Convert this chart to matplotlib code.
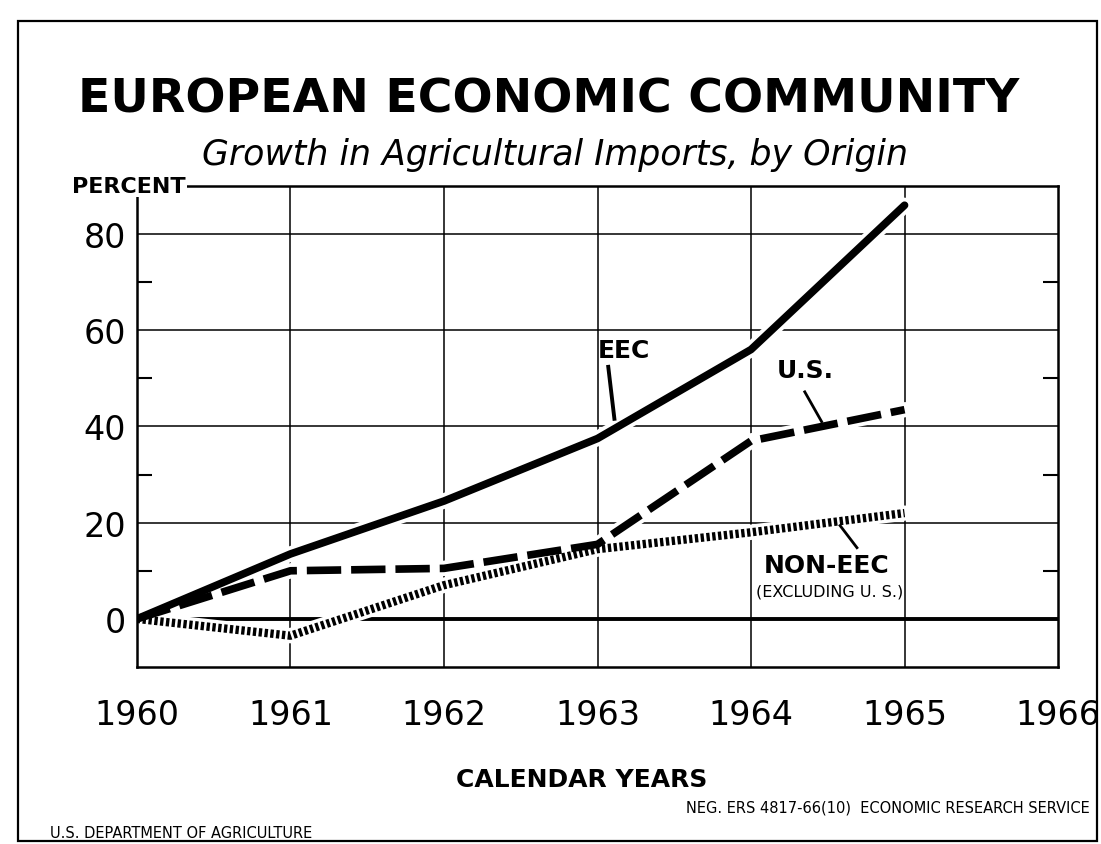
import matplotlib
matplotlib.use('Agg')
import matplotlib.pyplot as plt
from matplotlib.patches import Rectangle

# ── Data (percent growth over 1960) ───────────────────────────────────────────
years   = [1960, 1961, 1962, 1963, 1964, 1965]
eec     = [0, 13.5, 24.5, 37.5, 56, 86]
us      = [0, 10, 10.5, 15.5, 37, 43.5]
non_eec = [0, -3.5, 7, 14.5, 18, 22]

x_ticks = [1960, 1961, 1962, 1963, 1964, 1965, 1966]
y_ticks = [0, 20, 40, 60, 80]
y_minor = [10, 30, 50, 70]

plt.rcParams['font.family'] = ['DejaVu Sans']
INK = 'black'

fig = plt.figure(figsize=(11.01, 8.45), dpi=100)
fig.patch.set_facecolor('white')

# card border of the old print
fig.add_artist(Rectangle((0.016, 0.003), 0.98, 0.971, transform=fig.transFigure,
                         fill=False, edgecolor=INK, linewidth=1.6))

ax = fig.add_axes([0.1244, 0.2095, 0.8366, 0.5692])
ax.set_xlim(1960, 1966)
ax.set_ylim(-10, 90)

# ── grid ──────────────────────────────────────────────────────────────────────
for y in y_ticks[1:]:
    ax.axhline(y, color=INK, linewidth=1.1, zorder=1)
for x in x_ticks[1:-1]:
    ax.axvline(x, color=INK, linewidth=1.1, zorder=1)
ax.axhline(0, color=INK, linewidth=2.8, zorder=1.5)

# ── series (white halo first so grid gets broken around curves) ──────────────
for vals in (non_eec, us, eec):
    ax.plot(years, vals, color='white', linewidth=11, solid_capstyle='round',
            zorder=2.5)

ax.plot(years, non_eec, color=INK, linewidth=6, linestyle=(0, (0.4, 0.3)),
        zorder=3)
ax.plot(years, us, color=INK, linewidth=5.5, linestyle=(0, (4.5, 1.3)),
        zorder=3.5)
ax.plot(years, eec, color=INK, linewidth=5.5, solid_capstyle='round',
        zorder=4)

# ── labels on the curves ──────────────────────────────────────────────────────
ax.text(1963.17, 55.9, 'EEC', ha='center', va='center', fontsize=18,
        fontweight='bold', color=INK, zorder=6)
ax.plot([1963.07, 1963.11], [52.4, 41.6], color=INK, linewidth=2.8, zorder=6)

ax.text(1964.35, 51.8, 'U.S.', ha='center', va='center', fontsize=18,
        fontweight='bold', color=INK, zorder=6)
ax.plot([1964.35, 1964.46], [47.2, 41.0], color=INK, linewidth=2, zorder=6)

ax.text(1964.49, 11.3, 'NON-EEC', ha='center', va='center', fontsize=18,
        fontweight='bold', color=INK, zorder=6)
ax.text(1964.51, 5.8, '(EXCLUDING U. S.)', ha='center', va='center',
        fontsize=11.5, color=INK, zorder=6)
ax.plot([1964.58, 1964.69], [19.4, 14.8], color=INK, linewidth=2, zorder=6)

# ── axes styling ──────────────────────────────────────────────────────────────
for sp in ax.spines.values():
    sp.set_linewidth(1.8)
    sp.set_color(INK)

ax.set_xticks(x_ticks)
ax.set_xticklabels([str(v) for v in x_ticks], fontsize=24)
ax.set_yticks(y_ticks)
ax.set_yticklabels([str(v) for v in y_ticks], fontsize=24)
ax.set_yticks(y_minor, minor=True)
ax.tick_params(axis='x', length=0, pad=22, colors=INK)
ax.tick_params(axis='y', which='major', length=0, pad=8, colors=INK)
ax.tick_params(axis='y', which='minor', direction='in', length=11, width=1.5,
               left=True, right=True)

ax.text(1959.95, 90, 'PERCENT', ha='center', va='center', fontsize=16,
        fontweight='bold', color=INK, zorder=10, clip_on=False,
        bbox=dict(facecolor='white', edgecolor='none', pad=1))

# ── titles & footer ───────────────────────────────────────────────────────────
fig.text(0.498, 0.882, 'EUROPEAN ECONOMIC COMMUNITY', ha='center', va='center',
         fontsize=34, fontweight='bold', color=INK)
fig.text(0.504, 0.817, 'Growth in Agricultural Imports, by Origin',
         ha='center', va='center', fontsize=25, style='italic', color=INK)
fig.text(0.528, 0.077, 'CALENDAR YEARS', ha='center', va='center',
         fontsize=18, fontweight='bold', color=INK)

fig.text(0.045, 0.014, 'U.S. DEPARTMENT OF AGRICULTURE', ha='left',
         va='center', fontsize=10.5, color=INK)
fig.text(0.99, 0.044, 'NEG. ERS 4817-66(10)  ECONOMIC RESEARCH SERVICE',
         ha='right', va='center', fontsize=10.5, color=INK)

fig.savefig('out.png', dpi=100, facecolor='white')
